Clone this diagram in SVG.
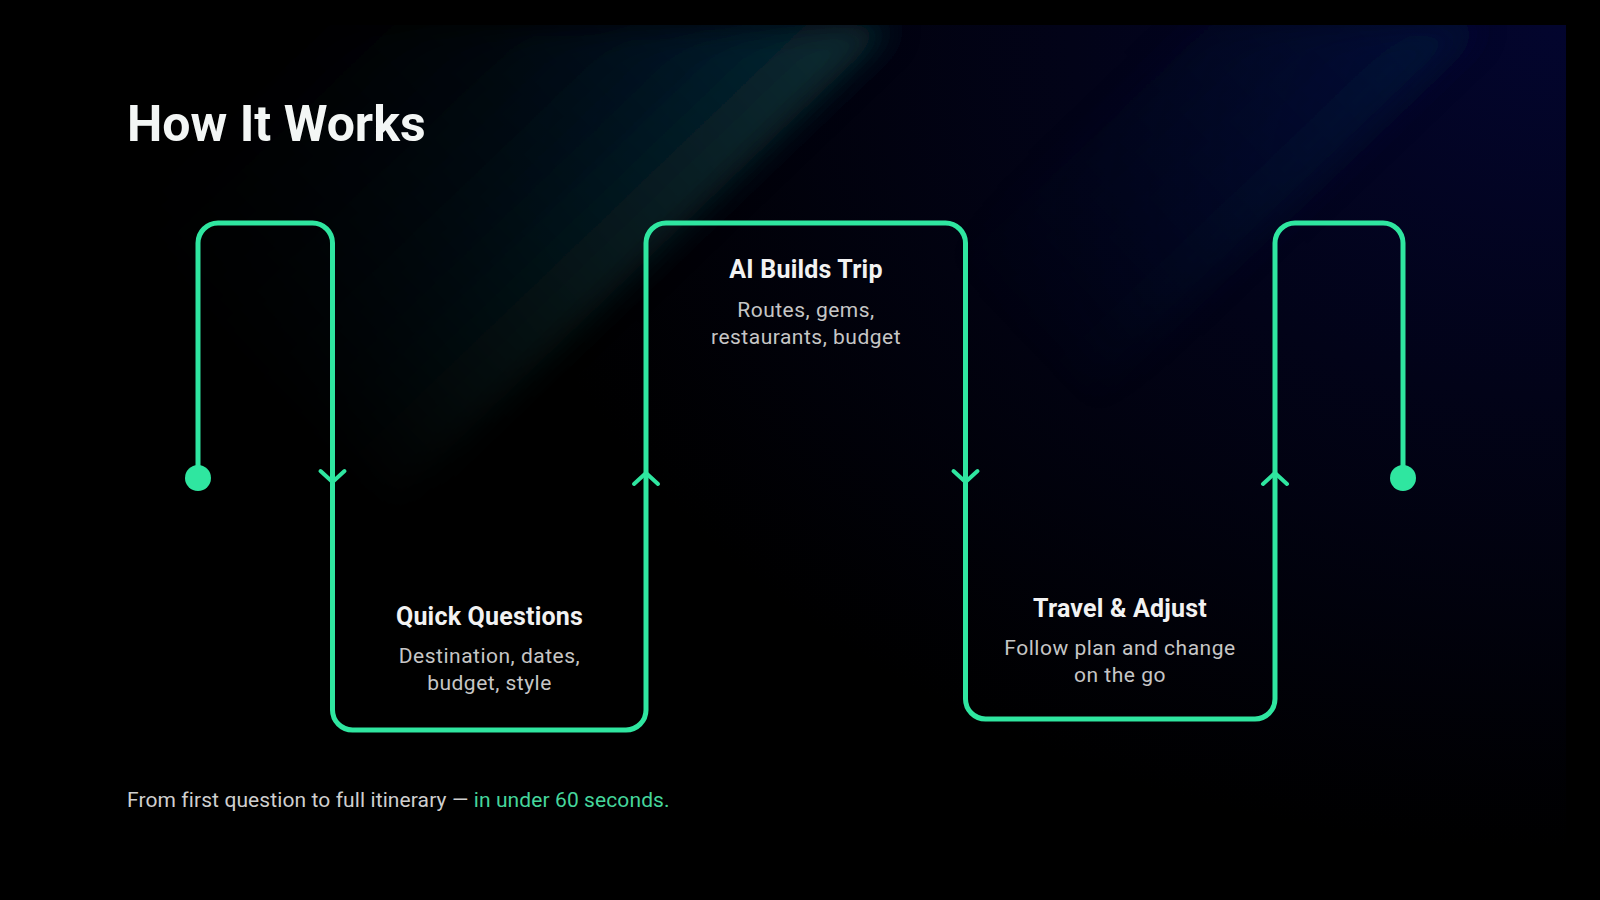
<svg xmlns="http://www.w3.org/2000/svg" width="1600" height="900" viewBox="0 0 1600 900">
  <defs>
    <radialGradient id="bg" gradientUnits="userSpaceOnUse" cx="1566" cy="25" r="1100" gradientTransform="translate(1566 25) scale(1 0.75) translate(-1566 -25)">
      <stop offset="0" stop-color="#03052e"/>
      <stop offset="0.45" stop-color="#020318"/>
      <stop offset="1" stop-color="#000000"/>
    </radialGradient>
    <linearGradient id="beam1x" gradientUnits="userSpaceOnUse" x1="892" y1="25" x2="600" y2="-280">
      <stop offset="0" stop-color="#0a3d3c" stop-opacity="0.85"/>
      <stop offset="0.3" stop-color="#07283f" stop-opacity="0.65"/>
      <stop offset="1" stop-color="#041638" stop-opacity="0"/>
    </linearGradient>
    <linearGradient id="beam1y" gradientUnits="userSpaceOnUse" x1="890" y1="25" x2="380" y2="512">
      <stop offset="0" stop-color="#fff"/>
      <stop offset="0.55" stop-color="#fff" stop-opacity="0.5"/>
      <stop offset="1" stop-color="#fff" stop-opacity="0"/>
    </linearGradient>
    <mask id="m1" maskUnits="userSpaceOnUse" x="0" y="0" width="1600" height="900">
      <rect x="0" y="0" width="1600" height="900" fill="url(#beam1y)"/>
    </mask>
    <linearGradient id="beam2x" gradientUnits="userSpaceOnUse" x1="1480" y1="25" x2="1290" y2="-174">
      <stop offset="0" stop-color="#0a1f48" stop-opacity="0.55"/>
      <stop offset="1" stop-color="#0a1848" stop-opacity="0"/>
    </linearGradient>
    <linearGradient id="beam2y" gradientUnits="userSpaceOnUse" x1="1480" y1="25" x2="1080" y2="407">
      <stop offset="0" stop-color="#fff"/>
      <stop offset="1" stop-color="#fff" stop-opacity="0"/>
    </linearGradient>
    <mask id="m2" maskUnits="userSpaceOnUse" x="0" y="0" width="1600" height="900">
      <rect x="0" y="0" width="1600" height="900" fill="url(#beam2y)"/>
    </mask>
    <filter id="blur" x="-30%" y="-30%" width="160%" height="160%">
      <feGaussianBlur stdDeviation="16"/>
    </filter>
    <clipPath id="slide">
      <rect x="0" y="25" width="1566" height="875"/>
    </clipPath>
    <style>
      .flow { fill: none; stroke: #2fe6a0; stroke-width: 5; stroke-linecap: round; stroke-linejoin: round; }
      .chev { fill: none; stroke: #2fe6a0; stroke-width: 4; stroke-linecap: round; stroke-linejoin: round; }
      .dot { fill: #2fe6a0; }
      .title { font-family: Roboto, "Liberation Sans", sans-serif; font-weight: 700; fill: #f3f6f5; }
      .step { font-family: Roboto, "Liberation Sans", sans-serif; font-weight: 700; font-size: 25px; letter-spacing: 0.2px; fill: #f2f2f2; text-anchor: middle; }
      .desc { font-family: Roboto, "Liberation Sans", sans-serif; font-weight: 400; font-size: 21px; letter-spacing: 0.5px; fill: #c6c6c6; text-anchor: middle; }
      .foot { font-family: Roboto, "Liberation Sans", sans-serif; font-weight: 400; font-size: 21px; letter-spacing: 0.1px; fill: #cfcfcf; }
      .accent { fill: #45d69c; }
    </style>
  </defs>

  <rect x="0" y="0" width="1600" height="900" fill="#000"/>
  <g id="background" clip-path="url(#slide)">
    <rect x="0" y="25" width="1566" height="875" fill="url(#bg)"/>
    <g mask="url(#m1)">
      <polygon points="330,25 892,25 380,515 -190,515" fill="url(#beam1x)" filter="url(#blur)"/>
    </g>
    <g mask="url(#m2)">
      <polygon points="1200,25 1480,25 1080,407 800,407" fill="url(#beam2x)" filter="url(#blur)"/>
    </g>
  </g>

  <g id="title">
    <text class="title" x="127" y="141" font-size="50">How It Works</text>
  </g>

  <g id="connectors">
    <path class="flow" d="M198,478 V243 A20,20 0 0 1 218,223 H312.5 A20,20 0 0 1 332.5,243 V710 A20,20 0 0 0 352.5,730 H626 A20,20 0 0 0 646,710 V243 A20,20 0 0 1 666,223 H945.5 A20,20 0 0 1 965.5,243 V699 A20,20 0 0 0 985.5,719 H1255 A20,20 0 0 0 1275,699 V243 A20,20 0 0 1 1295,223 H1383 A20,20 0 0 1 1403,243 V478"/>
    <path class="chev" d="M320.5,471 L332.5,482 L344.5,471"/>
    <path class="chev" d="M634,484 L646,473 L658,484"/>
    <path class="chev" d="M953.5,471 L965.5,482 L977.5,471"/>
    <path class="chev" d="M1263,484 L1275,473 L1287,484"/>
  </g>

  <g id="start">
    <circle class="dot" cx="198" cy="478" r="13"/>
  </g>

  <g id="step-quick-questions">
    <text class="step" x="489.5" y="625">Quick Questions</text>
    <text class="desc" x="489.5" y="663">Destination, dates,</text>
    <text class="desc" x="489.5" y="690">budget, style</text>
  </g>

  <g id="step-ai-builds-trip">
    <text class="step" x="806" y="278">AI Builds Trip</text>
    <text class="desc" x="806" y="317">Routes, gems,</text>
    <text class="desc" x="806" y="344">restaurants, budget</text>
  </g>

  <g id="step-travel-adjust">
    <text class="step" x="1120" y="617">Travel &amp; Adjust</text>
    <text class="desc" x="1120" y="655">Follow plan and change</text>
    <text class="desc" x="1120" y="682">on the go</text>
  </g>

  <g id="end">
    <circle class="dot" cx="1403" cy="478" r="13"/>
  </g>

  <g id="footer">
    <text class="foot" x="127" y="807">From first question to full itinerary — <tspan class="accent">in under 60 seconds.</tspan></text>
  </g>
</svg>
